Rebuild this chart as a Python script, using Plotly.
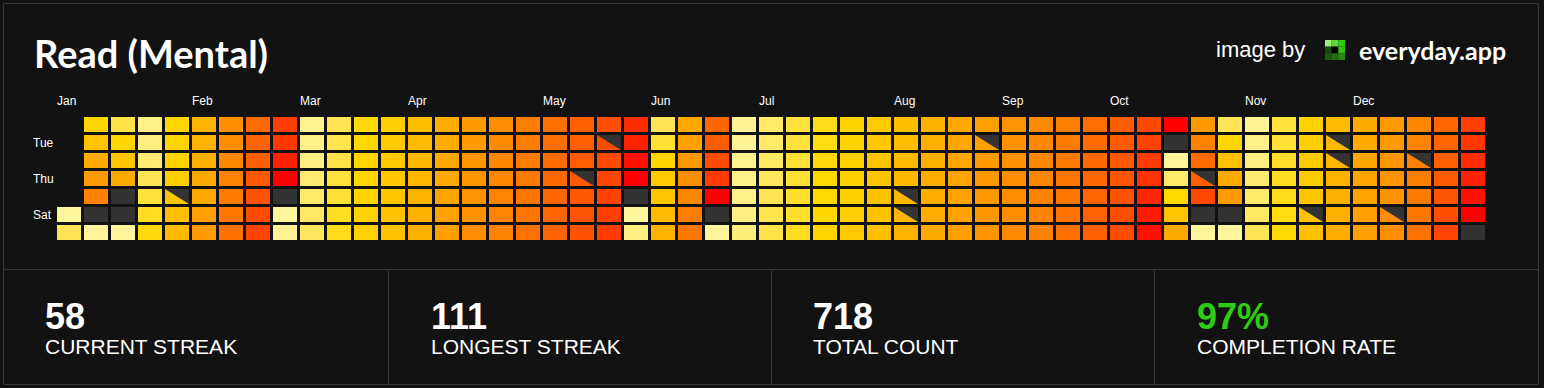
import numpy as np
import plotly.graph_objects as go

W, H = 1544, 388
BG = "#121212"
MISS = "#333333"
LINE = "#363636"

title_text = "Read (Mental)"
months = ["Jan", "Feb", "Mar", "Apr", "May", "Jun", "Jul", "Aug", "Sep", "Oct", "Nov", "Dec"]
month_week = [0, 5, 9, 13, 18, 22, 26, 31, 35, 39, 44, 48]
day_labels = ["Tue", "Thu", "Sat"]
day_rows = [1, 3, 5]

# one list per week column, Mon..Sun ; value = position on the colour ramp (0..100)
# None = no day, -1 = missed day
weeks = [
    [None, None, None, None, None, 0, 10],
    [21, 31, 45, 53, 63, -1, 0],
    [12, 21, 31, 45, -1, -1, 0],
    [3, 4, 6, 10, 13, 16, 19],
    [21, 22, 23, 26, 30, 33, 36],
    [40, 40, 42, 45, 46, 50, 52],
    [57, 58, 60, 63, 65, 67, 70],
    [72, 75, 77, 80, 82, 84, 86],
    [88, 90, 94, 100, -1, 0, 1],
    [2, 3, 4, 6, 7, 8, 9],
    [10, 11, 12, 13, 14, 16, 17],
    [19, 20, 21, 22, 23, 24, 24],
    [26, 27, 28, 29, 30, 32, 33],
    [35, 36, 37, 38, 39, 41, 42],
    [43, 44, 45, 46, 48, 49, 50],
    [52, 53, 54, 54, 55, 56, 57],
    [58, 59, 60, 61, 62, 62, 63],
    [64, 65, 65, 66, 67, 68, 69],
    [70, 71, 72, 73, 74, 75, 76],
    [77, 77, 78, 79, 80, 81, 82],
    [83, 84, 85, 86, 87, 88, 89],
    [92, 94, 97, 100, -1, 0, 4],
    [10, 14, 21, 27, 31, 36, 40],
    [46, 50, 53, 58, 61, 64, 67],
    [74, 78, 84, 89, 100, -1, 0],
    [1, 1, 2, 3, 3, 4, 5],
    [7, 7, 8, 9, 10, 11, 12],
    [13, 13, 14, 14, 15, 15, 16],
    [17, 18, 19, 20, 20, 21, 22],
    [23, 23, 24, 25, 25, 26, 27],
    [28, 29, 30, 31, 32, 32, 33],
    [34, 35, 36, 37, 38, 39, 40],
    [41, 42, 42, 43, 44, 44, 45],
    [46, 47, 47, 48, 49, 49, 50],
    [51, 51, 52, 53, 53, 54, 55],
    [55, 56, 56, 57, 57, 58, 59],
    [59, 60, 60, 61, 62, 62, 63],
    [64, 65, 66, 67, 68, 69, 70],
    [71, 72, 73, 74, 75, 76, 77],
    [78, 79, 80, 81, 82, 83, 84],
    [85, 87, 89, 91, 93, 95, 97],
    [100, -1, 0, 7, 20, 31, 45],
    [53, 63, 72, 77, 85, -1, 0],
    [10, 21, 33, 45, 53, -1, 0],
    [1, 3, 4, 6, 7, 8, 10],
    [13, 14, 15, 16, 17, 18, 20],
    [24, 26, 27, 28, 30, 32, 33],
    [36, 37, 38, 40, 41, 42, 43],
    [45, 46, 47, 48, 49, 50, 51],
    [52, 53, 54, 55, 56, 57, 57],
    [61, 62, 63, 64, 66, 67, 69],
    [74, 75, 77, 79, 81, 83, 86],
    [88, 90, 92, 94, 97, 100, -1],
]
# (week, weekday) of partially completed days
partial_cells = [(4, 4), (19, 3), (20, 1), (31, 4), (31, 5), (34, 1), (42, 3),
                 (46, 5), (47, 1), (47, 2), (49, 5), (50, 2)]

stat_values = ["58", "111", "718", "97%"]
stat_labels = ["CURRENT STREAK", "LONGEST STREAK", "TOTAL COUNT", "COMPLETION RATE"]
stat_colors = ["#ffffff", "#ffffff", "#ffffff", "#2ecc12"]

ramp = [[0.0, "#FFF59D"], [0.1, "#FFE556"], [0.2, "#FFD800"], [0.3, "#FFC600"],
        [0.4, "#FFB300"], [0.5, "#FFA000"], [0.6, "#FF8800"], [0.7, "#FF7000"],
        [0.8, "#FF5800"], [0.9, "#FF3800"], [1.0, "#FF0000"]]

z = np.array(weeks, dtype=float).T  # 7 rows x 53 cols
z_done = np.where(z >= 0, z, np.nan)
z_miss = np.where(z == -1, 1.0, np.nan)
ncol = z.shape[1]
xs = list(range(ncol))
ys = list(range(7))

# pixel layout of grid
PX0, PX1 = 56, 56 + 27 * ncol
PY0, PY1 = 116, 116 + 18 * 7

fig = go.Figure()
fig.add_trace(go.Heatmap(z=z_done, x=xs, y=ys, colorscale=ramp, zmin=0, zmax=100,
                         xgap=3, ygap=3, showscale=False, hoverinfo="skip"))
fig.add_trace(go.Heatmap(z=z_miss, x=xs, y=ys, colorscale=[[0, MISS], [1, MISS]],
                         zmin=0, zmax=1, xgap=3, ygap=3, showscale=False, hoverinfo="skip"))

# dark triangles (top-right half) for partial days
upx = (PX1 - PX0) / ncol
upy = (PY1 - PY0) / 7
tx, ty = [], []
for c, r in partial_cells:
    x0 = c - 0.5 + 1 / upx
    x1 = c + 0.5 - 2 / upx
    y0 = r - 0.5 + 1 / upy
    y1 = r + 0.5 - 2 / upy
    tx += [x0, x1, x1, x0, None]
    ty += [y0, y0, y1, y0, None]
fig.add_trace(go.Scatter(x=tx, y=ty, mode="lines", fill="toself", fillcolor=MISS,
                         line=dict(width=0, color=MISS), hoverinfo="skip", showlegend=False))


def px(x):
    return x / W


def py(y):
    return 1 - y / H


ann = []


def text(t, x, y, size, color="#ffffff", family="Liberation Sans, Arial", weight="normal",
         xanchor="left", xref="paper"):
    ann.append(dict(text=t, x=x if xref != "paper" else px(x), y=py(y), xref=xref, yref="paper",
                    xanchor=xanchor, yanchor="middle", showarrow=False,
                    font=dict(size=size, color=color, family=family, weight=weight)))


text(title_text, 32, 53, 38, family="Lato, Noto Sans", weight="bold")
text("image by", 1214, 50, 22)
text("everyday.app", 1357, 50, 25, family="Lato, Noto Sans", weight="bold")

for m, wk in zip(months, month_week):
    ann.append(dict(text=m, x=wk - 0.5 + 1 / upx, y=py(101.5), xref="x", yref="paper",
                    xanchor="left", yanchor="middle", showarrow=False, xshift=-2,
                    font=dict(size=12, color="#ffffff", family="Liberation Sans, Arial")))
for d, r in zip(day_labels, day_rows):
    ann.append(dict(text=d, x=px(31), y=r, xref="paper", yref="y",
                    xanchor="left", yanchor="middle", showarrow=False,
                    font=dict(size=12, color="#ffffff", family="Liberation Sans, Arial")))

panel_x = [43, 429, 811, 1195]
for v, l, c, x in zip(stat_values, stat_labels, stat_colors, panel_x):
    text(v, x, 316, 36, color=c, weight="bold")
    text(l, x, 346, 21)

shapes = []


def line(x0, y0, x1, y1):
    shapes.append(dict(type="line", xref="paper", yref="paper", x0=px(x0), y0=py(y0),
                       x1=px(x1), y1=py(y1), line=dict(color=LINE, width=1)))


shapes.append(dict(type="rect", xref="paper", yref="paper", x0=px(3.5), y0=py(3.5),
                   x1=px(1538.5), y1=py(384.5), line=dict(color=LINE, width=1)))
line(3.5, 269.5, 1538.5, 269.5)
for xv in [388.5, 771.5, 1154.5]:
    line(xv, 269.5, xv, 384.5)

# logo (3x3 pixel mark)
logo = [["#9cee82", "#5cd83c", "#33cc11"],
        ["#174a10", "#000000", "#2fc010"],
        ["#1b5810", "#226c16", "#288a14"]]
lx, ly, ls = 1325, 40, 20 / 3
for i, row in enumerate(logo):
    for j, col in enumerate(row):
        shapes.append(dict(type="rect", xref="paper", yref="paper",
                           x0=px(lx + j * ls), x1=px(lx + (j + 1) * ls),
                           y0=py(ly + i * ls), y1=py(ly + (i + 1) * ls),
                           line=dict(width=0), fillcolor=col))

fig.update_layout(
    width=W, height=H, margin=dict(l=0, r=0, t=0, b=0),
    paper_bgcolor=BG, plot_bgcolor=BG, showlegend=False,
    xaxis=dict(range=[-0.5, ncol - 0.5], domain=[px(PX0), px(PX1)], visible=False, fixedrange=True),
    yaxis=dict(range=[6.5, -0.5], domain=[py(PY1), py(PY0)], visible=False, fixedrange=True),
    annotations=ann, shapes=shapes,
)

fig.write_html("out.html", config={"displayModeBar": False},
               post_script="document.body.style.margin='0';document.body.style.overflow='hidden';"
                           "document.body.style.background='#121212';")
